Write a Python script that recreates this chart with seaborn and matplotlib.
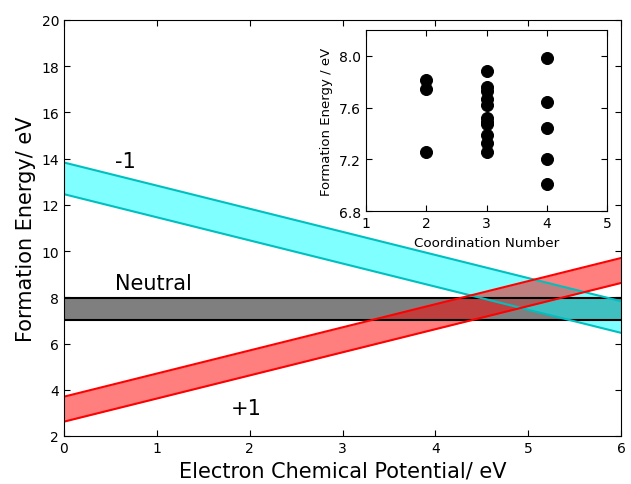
import numpy as np
import matplotlib
matplotlib.use("Agg")
import matplotlib.pyplot as plt
import seaborn as sns

# electron chemical potential range (eV)
mu = np.linspace(0, 6, 50)

# formation energy at mu = 0 (lower / upper edge of each band)
neutral_lo, neutral_hi = 7.01, 7.98
minus1_lo, minus1_hi = 12.46, 13.83
plus1_lo, plus1_hi = 2.62, 3.70

# inset data: coordination number vs neutral formation energy
coord = [2, 2, 2,
         3, 3, 3, 3, 3, 3, 3, 3, 3, 3, 3,
         4, 4, 4, 4, 4]
energy = [7.81, 7.74, 7.26,
          7.885, 7.76, 7.73, 7.67, 7.62, 7.52, 7.49, 7.47, 7.39, 7.33, 7.26,
          7.98, 7.64, 7.44, 7.205, 7.01]

sns.set_style("ticks", {"xtick.direction": "in", "ytick.direction": "in",
                        "axes.edgecolor": "black", "text.color": "black",
                        "axes.labelcolor": "black", "xtick.color": "black",
                        "ytick.color": "black"})
plt.rcParams['font.family'] = ['DejaVu Sans']
plt.rcParams['xtick.top'] = True
plt.rcParams['ytick.right'] = True

fig = plt.figure(figsize=(6.31, 4.85), dpi=100)
ax = fig.add_axes([0.1014, 0.099, 0.883, 0.858])

# neutral band
sns.lineplot(x=mu, y=np.full_like(mu, neutral_lo), color="black", lw=1.5, ax=ax)
sns.lineplot(x=mu, y=np.full_like(mu, neutral_hi), color="black", lw=1.5, ax=ax)
ax.fill_between(mu, neutral_lo, neutral_hi, color="black", alpha=0.5, lw=0)

# -1 band
sns.lineplot(x=mu, y=minus1_lo - mu, color="c", lw=1.5, ax=ax)
sns.lineplot(x=mu, y=minus1_hi - mu, color="c", lw=1.5, ax=ax)
ax.fill_between(mu, minus1_lo - mu, minus1_hi - mu, color="cyan", alpha=0.5, lw=0)

# +1 band
sns.lineplot(x=mu, y=plus1_lo + mu, color="red", lw=1.5, ax=ax)
sns.lineplot(x=mu, y=plus1_hi + mu, color="red", lw=1.5, ax=ax)
ax.fill_between(mu, plus1_lo + mu, plus1_hi + mu, color="red", alpha=0.5, lw=0)

ax.text(0.55, 13.9, "-1", fontsize=15, va="center")
ax.text(0.55, 8.6, "Neutral", fontsize=15, va="center")
ax.text(1.8, 3.2, "+1", fontsize=15, va="center")

ax.set_xlim(0, 6)
ax.set_ylim(2, 20)
ax.set_yticks(range(2, 21, 2))
ax.tick_params(labelsize=10, length=4)
ax.set_xlabel("Electron Chemical Potential/ eV", fontsize=15)
ax.set_ylabel("Formation Energy/ eV", fontsize=15)

# inset
ins = fig.add_axes([0.5796, 0.5623, 0.383, 0.374])
sns.scatterplot(x=coord, y=energy, color="black", s=75, edgecolor="black", ax=ins)
ins.set_xlim(1, 5)
ins.set_ylim(6.8, 8.2)
ins.set_xticks([1, 2, 3, 4, 5])
ins.set_yticks([6.8, 7.2, 7.6, 8.0])
ins.tick_params(labelsize=10, length=4)
ins.set_xlabel("Coordination Number", fontsize=9.7)
ins.set_ylabel("Formation Energy / eV", fontsize=9.5)

fig.savefig("out.png", dpi=100)
